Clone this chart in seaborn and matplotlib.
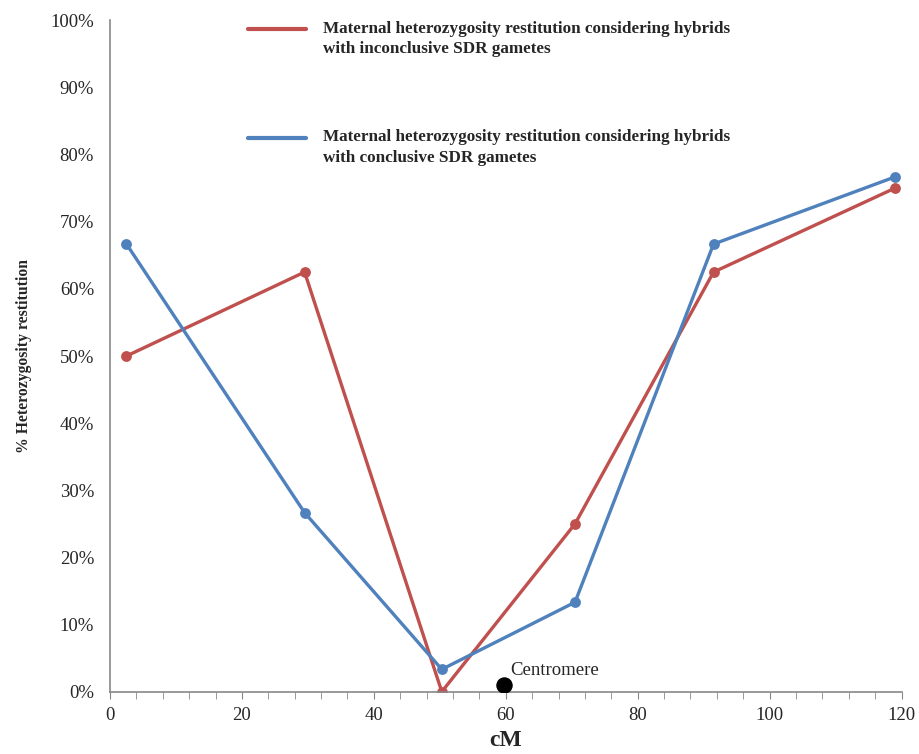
import numpy as np
import pandas as pd
import matplotlib.pyplot as plt
import seaborn as sns
from matplotlib.ticker import MultipleLocator, PercentFormatter
from matplotlib.legend_handler import HandlerLine2D

# data
cm_pos = [2.5, 29.5, 50.3, 70.5, 91.5, 119.0]
inconclusive = [50.0, 62.5, 0.0, 25.0, 62.5, 75.0]
conclusive = [66.67, 26.67, 3.33, 13.33, 66.67, 76.67]
centromere_cm = [59.7]
centromere_pct = [1.0]

lab_red = "Maternal heterozygosity restitution considering hybrids\nwith inconclusive SDR gametes"
lab_blue = "Maternal heterozygosity restitution considering hybrids\nwith conclusive SDR gametes"

df = pd.DataFrame({
    'cM': cm_pos * 2,
    'pct': inconclusive + conclusive,
    'series': [lab_red] * len(cm_pos) + [lab_blue] * len(cm_pos),
})


class TopLineHandler(HandlerLine2D):
    # put the legend line level with the first text line
    def create_artists(self, legend, orig_handle, xdescent, ydescent,
                       width, height, fontsize, trans):
        arts = super().create_artists(legend, orig_handle, xdescent, ydescent,
                                      width, height, fontsize, trans)
        for a in arts:
            a.set_ydata(np.asarray(a.get_ydata()) + 0.55 * fontsize)
        return arts


sns.set_style("white")
plt.rcParams['font.family'] = ['Liberation Serif', 'DejaVu Serif']

fig = plt.figure(figsize=(9.19, 7.54), dpi=100)
ax = fig.add_axes([0.1197, 0.0826, 0.8613, 0.8905])

sns.lineplot(data=df, x='cM', y='pct', hue='series', sort=False,
             palette={lab_red: '#C0504D', lab_blue: '#4F81BD'},
             marker='o', markersize=7.8, markeredgewidth=0, linewidth=2.4, ax=ax)

sns.scatterplot(x=centromere_cm, y=centromere_pct, color='black', s=120,
                marker='o', edgecolor='black', zorder=5, ax=ax, legend=False)
ax.annotate('Centromere', (centromere_cm[0], centromere_pct[0]), xytext=(5, 7),
            textcoords='offset points', fontsize=13.5)

ax.set_xlim(0, 120)
ax.set_ylim(0, 100)
ax.xaxis.set_major_locator(MultipleLocator(20))
ax.xaxis.set_minor_locator(MultipleLocator(4))
ax.yaxis.set_major_locator(MultipleLocator(10))
ax.yaxis.set_major_formatter(PercentFormatter(decimals=0))
ax.tick_params(axis='x', which='both', direction='out', bottom=True, length=5,
               color='#888888', labelsize=13.5, pad=6)
ax.tick_params(axis='y', left=False, labelsize=13.5, pad=8)

for s in ['top', 'right']:
    ax.spines[s].set_visible(False)
for s in ['left', 'bottom']:
    ax.spines[s].set_color('#888888')
    ax.spines[s].set_linewidth(1.2)

ax.set_xlabel('cM', fontsize=17, fontweight='bold', labelpad=4)
ax.set_ylabel('% Heterozygosity restitution', fontsize=11.3, fontweight='bold', labelpad=13)

handles, labels = ax.get_legend_handles_labels()
leg = ax.legend(handles, labels, loc='upper left', bbox_to_anchor=(0.155, 1.0224),
                frameon=False, handlelength=3.4, handletextpad=1.0, labelspacing=4.25,
                prop={'size': 12.3, 'weight': 'bold'},
                handler_map={h: TopLineHandler() for h in handles})
for line in leg.get_lines():
    line.set_marker('')
    line.set_linewidth(3)
for t in leg.get_texts():
    t.set_linespacing(1.35)

plt.savefig('out.png', dpi=100)
